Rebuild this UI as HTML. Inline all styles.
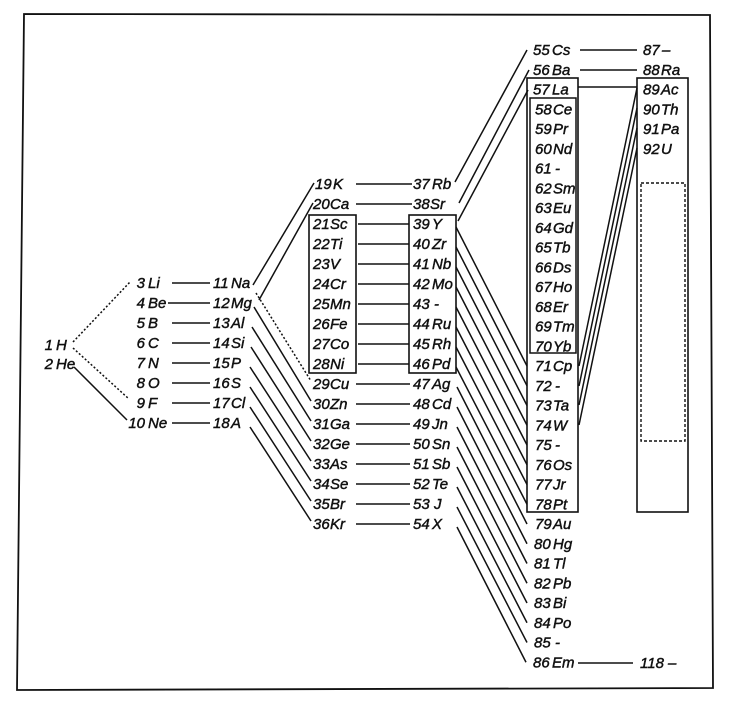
<!DOCTYPE html>
<html>
<head>
<meta charset="utf-8">
<style>
html,body{margin:0;padding:0;background:#fff;}
svg{display:block;}
text{font-family:"Liberation Sans",sans-serif;font-style:italic;font-size:15px;fill:#111;stroke:#111;stroke-width:0.45px;}
.e{text-anchor:end;}
</style>
</head>
<body>
<svg width="730" height="703" viewBox="0 0 730 703" xmlns="http://www.w3.org/2000/svg">
<rect width="730" height="703" fill="#fff"/>
<!-- border -->
<polygon points="24,14 710,15 713,688 17,690" fill="none" stroke="#111" stroke-width="1.8"/>

<g stroke="#111" stroke-width="1.5" fill="none">
<!-- H/He connections -->
<line x1="73" y1="342" x2="130" y2="282" stroke-dasharray="2,2"/>
<line x1="73" y1="348" x2="129" y2="399" stroke-dasharray="2,2"/>
<line x1="74" y1="367" x2="127" y2="420"/>
<!-- col2 -> col3 -->
<line x1="172" y1="283" x2="210" y2="283"/>
<line x1="168" y1="303" x2="210" y2="303"/>
<line x1="172" y1="323" x2="210" y2="323"/>
<line x1="172" y1="343" x2="210" y2="343"/>
<line x1="172" y1="363" x2="210" y2="363"/>
<line x1="172" y1="383" x2="210" y2="383"/>
<line x1="172" y1="403" x2="210" y2="403"/>
<line x1="172" y1="423" x2="210" y2="423"/>
<!-- col3 -> col4 -->
<line x1="253" y1="285" x2="314" y2="183"/>
<line x1="259" y1="300" x2="313" y2="203"/>
<line x1="256" y1="293" x2="311" y2="381" stroke-dasharray="2,2"/>
<line x1="254" y1="307" x2="311" y2="401"/>
<line x1="252" y1="327" x2="311" y2="421"/>
<line x1="251" y1="347" x2="311" y2="441"/>
<line x1="250" y1="367" x2="311" y2="461"/>
<line x1="250" y1="387" x2="311" y2="481"/>
<line x1="250" y1="407" x2="311" y2="501"/>
<line x1="250" y1="427" x2="311" y2="521"/>
<!-- boxes col4/col5 -->
<rect x="309" y="215" width="47" height="158" stroke-width="1.6"/>
<rect x="409" y="215" width="47" height="158" stroke-width="1.6"/>
<!-- col4 -> col5 -->
<line x1="356" y1="184" x2="412" y2="184"/>
<line x1="356" y1="204" x2="412" y2="204"/>
<line x1="358" y1="224" x2="409" y2="224"/>
<line x1="358" y1="244" x2="409" y2="244"/>
<line x1="358" y1="264" x2="409" y2="264"/>
<line x1="358" y1="284" x2="409" y2="284"/>
<line x1="358" y1="304" x2="409" y2="304"/>
<line x1="358" y1="324" x2="409" y2="324"/>
<line x1="358" y1="344" x2="409" y2="344"/>
<line x1="358" y1="364" x2="409" y2="364"/>
<line x1="356" y1="384" x2="410" y2="384"/>
<line x1="356" y1="404" x2="410" y2="404"/>
<line x1="356" y1="424" x2="410" y2="424"/>
<line x1="356" y1="444" x2="410" y2="444"/>
<line x1="356" y1="464" x2="410" y2="464"/>
<line x1="356" y1="484" x2="410" y2="484"/>
<line x1="356" y1="504" x2="410" y2="504"/>
<line x1="356" y1="524" x2="410" y2="524"/>
<!-- col5 -> col6 upward -->
<line x1="455" y1="182" x2="527" y2="50"/>
<line x1="459" y1="203" x2="529" y2="70"/>
<line x1="458" y1="221" x2="528" y2="90"/>
<!-- col5 -> col6 downward -->
<line x1="456" y1="227" x2="527" y2="366"/>
<line x1="456" y1="247" x2="527" y2="385.75"/>
<line x1="456" y1="267" x2="527" y2="405.5"/>
<line x1="456" y1="287" x2="527" y2="425.25"/>
<line x1="456" y1="307" x2="527" y2="445"/>
<line x1="456" y1="327" x2="527" y2="464.75"/>
<line x1="456" y1="347" x2="527" y2="484.5"/>
<line x1="456" y1="367" x2="527" y2="504.25"/>
<line x1="457" y1="387" x2="527" y2="524"/>
<line x1="457" y1="407" x2="527" y2="543.75"/>
<line x1="457" y1="427" x2="527" y2="563.5"/>
<line x1="457" y1="447" x2="527" y2="583.25"/>
<line x1="457" y1="467" x2="527" y2="603"/>
<line x1="457" y1="487" x2="527" y2="622.75"/>
<line x1="457" y1="507" x2="527" y2="642.5"/>
<line x1="457" y1="527" x2="526" y2="662.25"/>
<!-- col6 boxes -->
<rect x="527" y="78" width="51" height="434" stroke-width="1.6"/>
<rect x="530" y="98" width="46" height="255" stroke-width="1.5"/>
<!-- col6 -> col7 -->
<line x1="580" y1="50" x2="637" y2="50"/>
<line x1="580" y1="70" x2="637" y2="70"/>
<line x1="578" y1="87" x2="637" y2="87"/>
<line x1="637" y1="88" x2="579" y2="366"/>
<line x1="637" y1="108" x2="579" y2="386"/>
<line x1="637" y1="128" x2="579" y2="405"/>
<line x1="637" y1="148" x2="579" y2="425"/>
<line x1="578" y1="663" x2="633" y2="663"/>
<!-- col7 box -->
<rect x="637" y="78" width="51" height="434" stroke-width="1.6"/>
<rect x="641" y="183" width="44" height="258" stroke-dasharray="3,2" stroke-width="1.4"/>
</g>

<!-- col1 -->
<text class="e" x="53" y="350">1</text><text x="56" y="350">H</text>
<text class="e" x="53" y="369">2</text><text x="56" y="369">He</text>

<!-- col2 -->
<text class="e" x="145" y="288">3</text><text x="148" y="288">Li</text>
<text class="e" x="145" y="308">4</text><text x="148" y="308">Be</text>
<text class="e" x="145" y="328">5</text><text x="148" y="328">B</text>
<text class="e" x="145" y="348">6</text><text x="148" y="348">C</text>
<text class="e" x="145" y="368">7</text><text x="148" y="368">N</text>
<text class="e" x="145" y="388">8</text><text x="148" y="388">O</text>
<text class="e" x="145" y="408">9</text><text x="148" y="408">F</text>
<text class="e" x="145" y="428">10</text><text x="148" y="428">Ne</text>

<!-- col3 -->
<text x="213" y="288">11</text><text x="231" y="288">Na</text>
<text x="213" y="308">12</text><text x="231" y="308">Mg</text>
<text x="213" y="328">13</text><text x="231" y="328">Al</text>
<text x="213" y="348">14</text><text x="231" y="348">Si</text>
<text x="213" y="368">15</text><text x="231" y="368">P</text>
<text x="213" y="388">16</text><text x="231" y="388">S</text>
<text x="213" y="408">17</text><text x="231" y="408">Cl</text>
<text x="213" y="428">18</text><text x="231" y="428">A</text>

<!-- col4 -->
<text x="315" y="189">19</text><text x="333" y="189">K</text>
<text x="313" y="209">20</text><text x="330" y="209">Ca</text>
<text x="313" y="229">21</text><text x="330" y="229">Sc</text>
<text x="313" y="249">22</text><text x="330" y="249">Ti</text>
<text x="313" y="269">23</text><text x="330" y="269">V</text>
<text x="313" y="289">24</text><text x="330" y="289">Cr</text>
<text x="313" y="309">25</text><text x="330" y="309">Mn</text>
<text x="313" y="329">26</text><text x="330" y="329">Fe</text>
<text x="313" y="349">27</text><text x="330" y="349">Co</text>
<text x="313" y="369">28</text><text x="330" y="369">Ni</text>
<text x="313" y="389">29</text><text x="330" y="389">Cu</text>
<text x="313" y="409">30</text><text x="330" y="409">Zn</text>
<text x="313" y="429">31</text><text x="330" y="429">Ga</text>
<text x="313" y="449">32</text><text x="330" y="449">Ge</text>
<text x="313" y="469">33</text><text x="330" y="469">As</text>
<text x="313" y="489">34</text><text x="330" y="489">Se</text>
<text x="313" y="509">35</text><text x="330" y="509">Br</text>
<text x="313" y="529">36</text><text x="330" y="529">Kr</text>

<!-- col5 -->
<text x="413" y="189">37</text><text x="432" y="189">Rb</text>
<text x="413" y="209">38</text><text x="430" y="209">Sr</text>
<text x="413" y="229">39</text><text x="432" y="229">Y</text>
<text x="413" y="249">40</text><text x="432" y="249">Zr</text>
<text x="413" y="269">41</text><text x="432" y="269">Nb</text>
<text x="413" y="289">42</text><text x="432" y="289">Mo</text>
<text x="413" y="309">43</text><text x="434" y="309">-</text>
<text x="413" y="329">44</text><text x="432" y="329">Ru</text>
<text x="413" y="349">45</text><text x="432" y="349">Rh</text>
<text x="413" y="369">46</text><text x="432" y="369">Pd</text>
<text x="413" y="389">47</text><text x="432" y="389">Ag</text>
<text x="413" y="409">48</text><text x="432" y="409">Cd</text>
<text x="413" y="429">49</text><text x="432" y="429">Jn</text>
<text x="413" y="449">50</text><text x="432" y="449">Sn</text>
<text x="413" y="469">51</text><text x="432" y="469">Sb</text>
<text x="413" y="489">52</text><text x="432" y="489">Te</text>
<text x="413" y="509">53</text><text x="434" y="509">J</text>
<text x="413" y="529">54</text><text x="432" y="529">X</text>

<!-- col6 -->
<text x="533" y="55">55</text><text x="552" y="55">Cs</text>
<text x="533" y="74.75">56</text><text x="552" y="74.75">Ba</text>
<text x="533" y="94.5">57</text><text x="552" y="94.5">La</text>
<text x="535" y="114.25">58</text><text x="553" y="114.25">Ce</text>
<text x="535" y="134">59</text><text x="553" y="134">Pr</text>
<text x="535" y="153.75">60</text><text x="553" y="153.75">Nd</text>
<text x="535" y="173.5">61</text><text x="555" y="173.5">-</text>
<text x="535" y="193.25">62</text><text x="553" y="193.25">Sm</text>
<text x="535" y="213">63</text><text x="553" y="213">Eu</text>
<text x="535" y="232.75">64</text><text x="553" y="232.75">Gd</text>
<text x="535" y="252.5">65</text><text x="553" y="252.5">Tb</text>
<text x="535" y="272.25">66</text><text x="553" y="272.25">Ds</text>
<text x="535" y="292">67</text><text x="553" y="292">Ho</text>
<text x="535" y="311.75">68</text><text x="553" y="311.75">Er</text>
<text x="535" y="331.5">69</text><text x="553" y="331.5">Tm</text>
<text x="535" y="351.25">70</text><text x="553" y="351.25">Yb</text>
<text x="535" y="371">71</text><text x="553" y="371">Cp</text>
<text x="535" y="390.75">72</text><text x="555" y="390.75">-</text>
<text x="535" y="410.5">73</text><text x="553" y="410.5">Ta</text>
<text x="535" y="430.25">74</text><text x="553" y="430.25">W</text>
<text x="535" y="450">75</text><text x="555" y="450">-</text>
<text x="535" y="469.75">76</text><text x="553" y="469.75">Os</text>
<text x="535" y="489.5">77</text><text x="553" y="489.5">Jr</text>
<text x="535" y="509.25">78</text><text x="553" y="509.25">Pt</text>
<text x="535" y="529">79</text><text x="553" y="529">Au</text>
<text x="534" y="548.75">80</text><text x="553" y="548.75">Hg</text>
<text x="534" y="568.5">81</text><text x="553" y="568.5">Tl</text>
<text x="534" y="588.25">82</text><text x="553" y="588.25">Pb</text>
<text x="534" y="608">83</text><text x="553" y="608">Bi</text>
<text x="534" y="627.75">84</text><text x="553" y="627.75">Po</text>
<text x="534" y="647.5">85</text><text x="555" y="647.5">-</text>
<text x="533" y="667.25">86</text><text x="552" y="667.25">Em</text>

<!-- col7 -->
<text x="643" y="55">87</text><text x="662" y="55">–</text>
<text x="643" y="74.75">88</text><text x="661" y="74.75">Ra</text>
<text x="643" y="94.5">89</text><text x="661" y="94.5">Ac</text>
<text x="643" y="114.25">90</text><text x="661" y="114.25">Th</text>
<text x="643" y="134">91</text><text x="661" y="134">Pa</text>
<text x="643" y="153.75">92</text><text x="661" y="153.75">U</text>
<text x="640" y="668">118</text><text x="668" y="668">–</text>
</svg>
</body>
</html>
